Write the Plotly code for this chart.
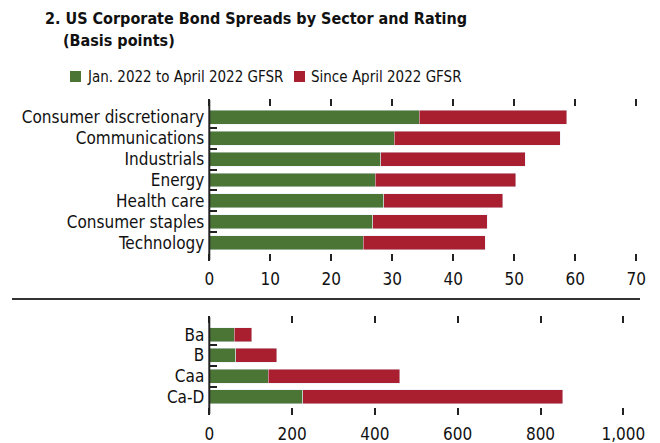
import plotly.graph_objects as go

# ---- data ----
sectors = ["Consumer discretionary", "Communications", "Industrials", "Energy",
           "Health care", "Consumer staples", "Technology"]
sector_jan_apr = [34.4, 30.3, 28.1, 27.2, 28.6, 26.8, 25.2]
sector_since_apr = [24.2, 27.2, 23.7, 23.0, 19.5, 18.8, 20.0]

ratings = ["Ba", "B", "Caa", "Ca-D"]
rating_jan_apr = [60, 64, 142, 226]
rating_since_apr = [42, 99, 318, 628]

top_ticks = [0, 10, 20, 30, 40, 50, 60, 70]
bottom_ticks = [0, 200, 400, 600, 800, 1000]

series_names = ["Jan. 2022 to April 2022 GFSR", "Since April 2022 GFSR"]
GREEN = "#4a7535"
RED = "#a91f2f"
FONT = "DejaVu Sans Condensed, sans-serif"

W, H = 660, 443
OFF = 8  # page body margin


def px_x(p):
    return (p - OFF) / W


def px_y(p):
    return 1 - (p - OFF) / H


fig = go.Figure()
fig.add_trace(go.Bar(y=sectors, x=sector_jan_apr, orientation="h", marker_color=GREEN,
                     name=series_names[0], xaxis="x", yaxis="y", showlegend=False))
fig.add_trace(go.Bar(y=sectors, x=sector_since_apr, orientation="h", marker_color=RED,
                     name=series_names[1], xaxis="x", yaxis="y", showlegend=False))
fig.add_trace(go.Bar(y=ratings, x=rating_jan_apr, orientation="h", marker_color=GREEN,
                     name=series_names[0], xaxis="x2", yaxis="y2", showlegend=False))
fig.add_trace(go.Bar(y=ratings, x=rating_since_apr, orientation="h", marker_color=RED,
                     name=series_names[1], xaxis="x2", yaxis="y2", showlegend=False))

xcommon = dict(showgrid=False, zeroline=False, showline=False, ticks="outside", ticklen=7,
               tickwidth=1.5, tickcolor="#222", mirror="ticks", automargin=False,
               ticklabelstandoff=4,
               tickfont=dict(family=FONT, size=17, color="#111"), fixedrange=True)
ycommon = dict(showgrid=False, zeroline=False, showline=False,
               ticks="inside", ticklen=8, tickwidth=1.5, tickcolor="#222", tickson="boundaries",
               autorange="reversed", type="category", tickmode="linear", tick0=0, dtick=1,
               automargin=False,
               tickfont=dict(family=FONT, size=17, color="#111"), ticklabelstandoff=4,
               fixedrange=True)

X0 = 209.3
fig.update_layout(
    width=W, height=H,
    margin=dict(l=0, r=0, t=0, b=0),
    paper_bgcolor="white", plot_bgcolor="white",
    barmode="stack", bargap=0.33,
    showlegend=False,
    xaxis=dict(domain=[px_x(X0), px_x(636.3)], range=[0, 70], tickvals=top_ticks,
               anchor="y", **xcommon),
    yaxis=dict(domain=[px_y(253), px_y(107)], anchor="x", **ycommon),
    xaxis2=dict(domain=[px_x(X0), px_x(623.3)], range=[0, 1000], tickvals=bottom_ticks,
                tickformat=",", anchor="y2", **xcommon),
    yaxis2=dict(domain=[px_y(407.3), px_y(324.3)], anchor="x2", **ycommon),
)

# vertical axis lines (extend over the tick marks, as in the original)
for y_top, y_bot in [(100, 260), (317, 414)]:
    fig.add_shape(type="line", xref="paper", yref="paper", x0=px_x(X0), x1=px_x(X0),
                  y0=px_y(y_top), y1=px_y(y_bot), line=dict(color="#222", width=2))

# title
fig.add_annotation(text="<b>2. US Corporate Bond Spreads by Sector and Rating</b>",
                   xref="paper", yref="paper", x=px_x(43), y=px_y(19), xanchor="left",
                   yanchor="middle", showarrow=False,
                   font=dict(family=FONT, size=16, color="#111"))
fig.add_annotation(text="<b>(Basis points)</b>",
                   xref="paper", yref="paper", x=px_x(61), y=px_y(40), xanchor="left",
                   yanchor="middle", showarrow=False,
                   font=dict(family=FONT, size=16, color="#111"))

# legend (manual)
legend_items = [(70, 85, GREEN, series_names[0]), (294, 309, RED, series_names[1])]
for sq_x, tx_x, col, name in legend_items:
    fig.add_shape(type="rect", xref="paper", yref="paper",
                  x0=px_x(sq_x), x1=px_x(sq_x + 11), y0=px_y(82), y1=px_y(71),
                  fillcolor=col, line=dict(width=0))
    fig.add_annotation(text=name, xref="paper", yref="paper", x=px_x(tx_x), y=px_y(76.5),
                       xanchor="left", yanchor="middle", showarrow=False,
                       font=dict(family=FONT, size=15, color="#111"))

# separator
fig.add_shape(type="line", xref="paper", yref="paper", x0=px_x(12), x1=px_x(640),
              y0=px_y(299), y1=px_y(299), line=dict(color="#333", width=2))

fig.write_html("out.html")
